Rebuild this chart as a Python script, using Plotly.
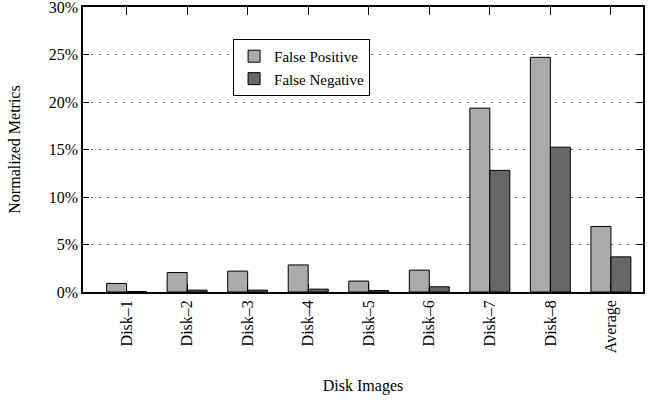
import plotly.graph_objects as go

categories = ["Disk\u20131", "Disk\u20132", "Disk\u20133", "Disk\u20134", "Disk\u20135",
              "Disk\u20136", "Disk\u20137", "Disk\u20138", "Average"]
false_positive = [0.9, 2.05, 2.2, 2.85, 1.15, 2.3, 19.35, 24.7, 6.9]
false_negative = [0.05, 0.2, 0.2, 0.3, 0.15, 0.55, 12.8, 15.25, 3.7]
y_ticks = [0, 5, 10, 15, 20, 25, 30]
y_tick_labels = ["0%", "5%", "10%", "15%", "20%", "25%", "30%"]

FONT = '"Liberation Serif", "Times New Roman", Times, serif'
FS = 16

fig = go.Figure()
fig.add_trace(go.Bar(name="False Positive", x=categories, y=false_positive,
                     marker=dict(color="#aaaaaa", line=dict(color="#000000", width=1))))
fig.add_trace(go.Bar(name="False Negative", x=categories, y=false_negative,
                     marker=dict(color="#666666", line=dict(color="#000000", width=1))))

fig.update_layout(
    width=653, height=401,
    margin=dict(l=83, r=10, t=7, b=109, autoexpand=False),
    paper_bgcolor="white", plot_bgcolor="white",
    font=dict(family=FONT, size=FS, color="#000000"),
    barmode="group", bargap=0.34, bargroupgap=0,
    showlegend=True,
    legend=dict(x=0.268, y=0.888, xanchor="left", yanchor="top",
                bgcolor="white", bordercolor="#000000", borderwidth=1,
                font=dict(family=FONT, size=15), tracegroupgap=0),
)
fig.update_xaxes(
    type="category", range=[-0.72, 8.53], automargin=False,
    showline=True, linecolor="#000000", linewidth=1.5, mirror="ticks",
    ticks="inside", ticklen=8, tickcolor="#000000", tickwidth=1,
    tickangle=-90, tickfont=dict(family=FONT, size=FS), ticklabeloverflow="allow",
    showgrid=False,
    title=dict(text="Disk Images", font=dict(family=FONT, size=FS), standoff=28),
)
fig.update_yaxes(
    range=[0, 30], tickvals=y_ticks, ticktext=y_tick_labels, automargin=False,
    showline=True, linecolor="#000000", linewidth=1.5, mirror="ticks",
    ticks="inside", ticklen=6, tickcolor="#000000", tickwidth=1,
    tickfont=dict(family=FONT, size=FS), ticklabeloverflow="allow",
    showgrid=True, gridcolor="#666666", gridwidth=1, griddash="2px,6px",
    zeroline=False,
    title=dict(text="Normalized Metrics", font=dict(family=FONT, size=FS), standoff=24),
)

fig.write_html("out.html", config={"displayModeBar": False},
               post_script="document.body.style.margin='0';")
